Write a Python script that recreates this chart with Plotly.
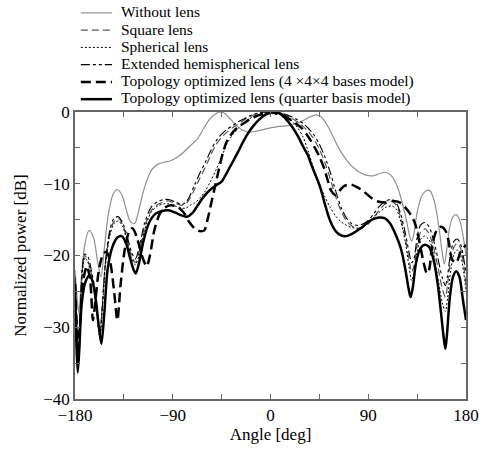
import plotly.graph_objects as go

# ---------------- data ----------------
labels = ["Without lens", "Square lens", "Spherical lens", "Extended hemispherical lens",
          "Topology optimized lens (4 \u00d74\u00d74 bases model)",
          "Topology optimized lens (quarter basis model)"]

wl_ang = [-180,-178,-176.5,-174,-171,-167,-163,-159,-156,-153,-149,-145,-141,-137,-133,-129,-125,-121,-116,-110,
          -104,-98,-92,-86,-80,-74,-68,-62,-56,-50,-46,-42,-38,-32,-26,-20,-14,-8,0,8,16,24,30,36,42,46,50,55,60,65,
          70,76,82,88,94,100,106,112,117,121,125,128,130,132,135,139,144,147,151,155,158,160,162,165,168,171,174,177,180]
wl_db = [-22,-26,-28,-23,-18.5,-16.5,-17.5,-21,-23,-19,-14,-11.5,-10.8,-11.5,-13.5,-15.3,-15.5,-13.5,-10.5,-8.2,
         -7.3,-7,-6.8,-6.3,-5.6,-4.7,-3.9,-2.4,-1.0,-0.2,0,-0.2,-0.8,-1.8,-2.5,-2.8,-2.7,-2.5,-2.2,-2,-1.9,-1.6,-1.2,-0.7,-0.4,-0.6,-1.3,-2.6,-4.2,-5.6,
         -6.7,-7.7,-8.4,-8.8,-8.9,-8.6,-8.4,-9,-10.5,-12.5,-15,-17.2,-18,-17,-14,-11.8,-10.9,-11,-12.5,-16,-19.5,-21.2,-19.5,-16,-14.6,-14.3,-15,-17,-20]

thin_ang = [-180,-178.5,-177,-175.5,-173.5,-171,-168,-165,-162,-159,-157,-155,-152,-148,-144,-140,-136,-132,-128,-124.5,
            -121,-116,-110,-104,-98,-94,-88,-82,-78,-74,-70,-65,-60,-55,-50,-45,-40,-35,-30,-25,-20,-15,-10,-5,0,
            5,10,15,20,25,30,35,40,45,50,55,60,65,70,75,80,85,90,95,100,106,112,116,120,124,127.5,130,132,135,138,
            142,146,150,154,158,161,163,166,169,172,175,178,180]
sq_db = [-24,-30,-33,-29,-22.5,-20,-20.8,-22.5,-25,-29,-30.5,-27,-21,-17,-15.2,-14.8,-15.8,-17.8,-20,-21,
         -19.5,-16,-13.8,-12.9,-12.5,-12.4,-12.7,-13,-12.8,-12,-10.8,-9.2,-7.7,-6,-4.5,-3.5,-2.8,-2.2,-1.7,-1.2,-0.7,-0.4,-0.15,0,0,
         -0.05,-0.2,-0.5,-0.9,-1.4,-2,-2.8,-3.8,-5.2,-7,-9.3,-11.8,-13.8,-15.2,-15.9,-16.2,-16.1,-15.6,-14.7,-13.7,-12.8,-12.5,-13,-14.8,-17.5,-20.5,-22.3,-21.5,-18.5,-16.8,
         -16.3,-17,-18.8,-21.5,-24.5,-25.8,-24,-20.5,-18.8,-18.3,-19,-21.5,-24]
sp_db = [-25,-31,-34.5,-30,-23,-20.3,-21,-22.8,-25.5,-29.5,-31.5,-28,-21.5,-17.3,-15.5,-15.2,-16,-18,-20.3,-21.3,
         -20,-16.5,-14,-13.1,-12.8,-12.8,-13.1,-13.4,-13.4,-13,-12.7,-12,-11,-9.6,-8,-6.3,-4.4,-3.2,-2.3,-1.6,-1,-0.6,-0.3,-0.1,0,
         0,-0.2,-0.6,-1.3,-2.2,-3.5,-5.6,-8,-10,-11.8,-13.3,-14.5,-15.3,-15.8,-16.1,-16.2,-16,-15.5,-14.7,-14,-13.3,-13.1,-13.6,-15.3,-18,-21.5,-23.5,-22.5,-19.5,-17.8,
         -17.3,-17.8,-19.7,-23,-26.5,-27.8,-26,-22,-19.8,-19.2,-20,-22.5,-25]
ex_db = [-23,-29,-34,-30,-22,-19.8,-20.2,-22,-24.5,-28.5,-31,-27.5,-21,-16.5,-14.8,-14.6,-15.5,-17.3,-19.5,-20.5,
         -19,-15.5,-13.3,-12.5,-12.2,-12.2,-12.5,-12.9,-12.6,-11.6,-10.2,-8.5,-7,-5.4,-4,-3.1,-2.4,-1.9,-1.4,-1,-0.6,-0.3,-0.1,0,0,
         -0.05,-0.15,-0.4,-0.7,-1.1,-1.6,-2.3,-3.2,-4.5,-6.2,-8.4,-11,-13.3,-14.8,-15.6,-15.8,-15.6,-15.1,-14.2,-13.2,-12.4,-12.2,-12.7,-14.3,-16.8,-19.5,-21,-20.5,-17.5,-15.8,
         -15.4,-16,-17.8,-20.3,-23,-24.2,-22.8,-19.5,-18,-17.7,-18.4,-20.5,-22.5]

td_ang = [-180,-178,-177,-175.5,-172.5,-169,-166,-163.5,-161,-158,-154,-151,-147.5,-144,-141,-138,-134,-130,-127,-123,
          -118,-114,-111,-107,-102,-97,-92,-86,-80,-75,-70,-65,-61,-58,-55,-52,-48,-44,-40,-34,-30,-25,-20,-15,-10,
          -5,0,5,10,15,20,25,29,35,40.5,45,49.5,53,56,60,64,68,74,80,86,94,100,106,113,119,124,129,133,137,141,
          144,146,149,153,157,161,164,167,171,175,180]
td_db = [-24,-31,-34,-30,-23.5,-21.5,-23.5,-29,-26,-22,-19.8,-19.5,-21,-25,-29,-24,-19,-16.6,-16.2,-17.5,
         -20.2,-21.5,-20,-16.5,-14.2,-13.3,-13,-13.2,-14,-15.3,-16.2,-16.6,-16.5,-15,-13,-11,-8.3,-5.8,-4,-2.7,-2.1,-1.6,-1.1,-0.7,-0.4,
         -0.2,0,-0.2,-0.5,-0.8,-1.2,-1.8,-2.3,-3.5,-4.9,-6.2,-7.9,-9.7,-11,-11.6,-10.9,-10.3,-10.1,-10.5,-11.1,-12.1,-12.5,-12.6,-12.4,-12.6,-13.3,-14.3,-15.5,-18,-21,
         -22.5,-22,-18.5,-16.5,-16,-16.5,-18,-20.5,-21,-19.5,-18.5]

qb_ang = [-180,-179,-177.5,-176,-174,-171,-167,-164,-161,-158,-155.7,-153,-150,-146,-141,-137,-133,-129,-126,-124,
          -121,-117,-112,-106,-100,-94,-88,-82,-77,-72,-67,-62,-56,-50,-45,-40,-35,-30,-25,-20,-15,-10,-5,0,4,
          8,12,16,20,25,30,34,38,42,46,50,55,60,65,70,75,80,85,90,95,100,105,110,115,120,124,127,129,131,134,
          138,142,146,150,154,157,159.5,161,162.5,165,168,171,174,177,180]
qb_db = [-24,-31,-36.3,-33,-27,-24,-22.8,-23.5,-26,-30,-32.3,-28,-22,-19,-17.5,-17.3,-18.3,-20.5,-22,-22.5,
         -21,-18,-15.5,-14.2,-13.8,-13.7,-14,-14.4,-14.6,-14.1,-13,-11.9,-10.9,-10.2,-9.7,-8.4,-7,-5.6,-4.1,-2.8,-1.8,-1,-0.4,-0.1,0,
         -0.2,-0.6,-1.3,-2.1,-3.3,-4.8,-5.9,-7.5,-9,-10.6,-12.8,-15.2,-16.6,-17.2,-17.3,-17,-16.5,-16,-15.3,-14.9,-14.7,-14.8,-15.5,-17,-19,-21.8,-24.5,-25.8,-24.5,-21,
         -19,-18.5,-18.8,-20.5,-24,-28,-31.5,-33,-31,-26,-23,-22.2,-23,-26,-29]

x_ticks = [-180, -90, 0, 90, 180]
y_ticks = [0, -10, -20, -30, -40]

# ---------------- styles ----------------
series = [
    (wl_ang, wl_db, dict(color="#8f8f8f", width=1.2, dash="solid")),
    (thin_ang, sq_db, dict(color="#555555", width=1.2, dash="7px,4px")),
    (thin_ang, sp_db, dict(color="#000000", width=1.0, dash="2px,2px")),
    (thin_ang, ex_db, dict(color="#000000", width=1.1, dash="9px,3px,3px,3px,3px,3px")),
    (td_ang, td_db, dict(color="#000000", width=2.5, dash="10px,5px")),
    (qb_ang, qb_db, dict(color="#000000", width=2.5, dash="solid")),
]

fig = go.Figure()
for (a, d, ln), name in zip(series, labels):
    fig.add_trace(go.Scatter(x=a, y=d, mode="lines", name=name,
                             line=dict(shape="spline", smoothing=0.8, **ln),
                             showlegend=False))

W, H = 491, 453
L, R, T, B = 75, 14, 112, 50
pw, ph = W - L - R, H - T - B

def px2paper_x(px):
    return (px - L) / pw

def px2paper_y(py):
    return (H - B - py) / ph

FONT = "Liberation Serif, Times New Roman, serif"
rows = [10.5, 28, 45.5, 63, 80.5, 98]
shapes = []
annotations = []
for (a, d, ln), name, ry in zip(series, labels, rows):
    shapes.append(dict(type="line", xref="paper", yref="paper",
                       x0=px2paper_x(81), x1=px2paper_x(113),
                       y0=px2paper_y(ry + 1), y1=px2paper_y(ry + 1),
                       line=dict(color=ln["color"], width=ln["width"], dash=ln["dash"])))
    annotations.append(dict(xref="paper", yref="paper", x=px2paper_x(121), y=px2paper_y(ry),
                            xanchor="left", yanchor="middle", text=name, showarrow=False,
                            borderpad=0,
                            font=dict(family=FONT, size=15.5, color="black")))

axis_common = dict(showgrid=False, zeroline=False, showline=True, linecolor="#666666", linewidth=1.5,
                   mirror="ticks", ticks="inside", ticklen=5, tickcolor="#666666", tickwidth=1,
                   tickfont=dict(family=FONT, size=17, color="black"))

fig.update_layout(
    width=W, height=H, margin=dict(l=L, r=R, t=T, b=B),
    paper_bgcolor="white", plot_bgcolor="white",
    shapes=shapes, annotations=annotations,
    xaxis=dict(range=[-180, 180], tickvals=x_ticks,
               minor=dict(dtick=45, ticks="inside", ticklen=5, tickcolor="#666666"),
               title=dict(text="Angle [deg]", font=dict(family=FONT, size=17, color="black"), standoff=4),
               **axis_common),
    yaxis=dict(range=[-40, 0], tickvals=y_ticks,
               minor=dict(dtick=5, ticks="inside", ticklen=5, tickcolor="#666666"),
               title=dict(text="Normalized power [dB]", font=dict(family=FONT, size=17, color="black"), standoff=12),
               **axis_common),
)

fig.write_html("out.html", config={"displayModeBar": False},
               post_script="document.body.style.margin='0';document.body.style.padding='0';")
